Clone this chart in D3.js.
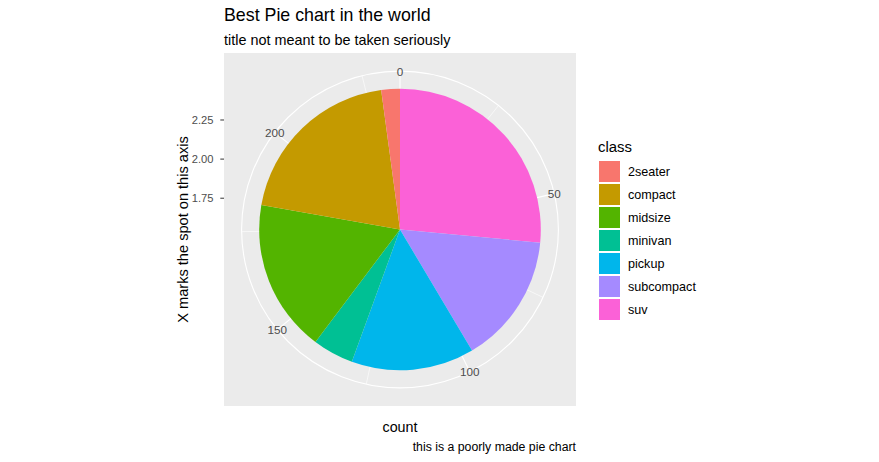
<!DOCTYPE html>
<html><head><meta charset="utf-8">
<script src="https://cdn.jsdelivr.net/npm/d3@7/dist/d3.min.js"></script>
<style>body{margin:0;background:#fff}svg{display:block}text{font-family:"Liberation Sans",Arial,sans-serif}</style>
</head><body>
<svg id="c" width="879" height="462"></svg>
<script>
const categories = ["2seater","compact","midsize","minivan","pickup","subcompact","suv"];
const counts = [5,47,41,11,33,35,62];
const colors = ["#F8766D","#C49A00","#53B400","#00C094","#00B6EB","#A58AFF","#FB61D7"];
const thetaMajor = [0,50,100,150,200];
const thetaMinor = [25,75,125,175,225];
const rBreaks = [1.75,2.00,2.25];
const rLabels = ["1.75","2.00","2.25"];

const svg = d3.select("#c");
const px0 = 224, py0 = 53, pw = 352, ph = 353;
const cx = px0 + pw/2, cy = py0 + ph/2;
const total = d3.sum(counts);
const theta = d3.scaleLinear().domain([0,total]).range([0,2*Math.PI]);
const r = d3.scaleLinear().domain([1.55,2.45]).range([0,0.4*pw]);
const rOuter = 0.45*pw;

svg.append("rect").attr("x",px0).attr("y",py0).attr("width",pw).attr("height",ph).attr("fill","#EBEBEB");
const g = svg.append("g").attr("transform",`translate(${cx},${cy})`);

rBreaks.forEach(b=>g.append("circle").attr("r",r(b)).attr("fill","none").attr("stroke","#fff").attr("stroke-width",1.1));
g.append("circle").attr("r",rOuter).attr("fill","none").attr("stroke","#fff").attr("stroke-width",1.1);
function spoke(v,w){const a=theta(v);g.append("line").attr("x1",0).attr("y1",0)
 .attr("x2",rOuter*Math.sin(a)).attr("y2",-rOuter*Math.cos(a)).attr("stroke","#fff").attr("stroke-width",w);}
thetaMinor.forEach(v=>spoke(v,0.6));
thetaMajor.forEach(v=>spoke(v,1.1));

const order = d3.range(categories.length).reverse();
let acc = 0;
const arc = d3.arc().innerRadius(0).outerRadius(r(2.45));
order.forEach(i=>{
  const s=acc, e=acc+counts[i]; acc=e;
  g.append("path").attr("d",arc({startAngle:theta(s),endAngle:theta(e)})).attr("fill",colors[i]);
});

thetaMajor.forEach(v=>{const a=theta(v);
  g.append("text").attr("x",rOuter*Math.sin(a)).attr("y",-rOuter*Math.cos(a)).attr("text-anchor","middle")
   .attr("dominant-baseline","central").attr("font-size",11.7).attr("fill","#4D4D4D").text(v);
});

rBreaks.forEach((b,i)=>{const y=cy-r(b);
  svg.append("line").attr("x1",px0-3.7).attr("x2",px0).attr("y1",y).attr("y2",y).attr("stroke","#333").attr("stroke-width",1);
  svg.append("text").attr("x",px0-10.5).attr("y",y).attr("text-anchor","end").attr("dominant-baseline","central")
   .attr("font-size",11.2).attr("fill","#4D4D4D").text(rLabels[i]);
});

svg.append("text").attr("x",224).attr("y",21).attr("font-size",17.8).attr("fill","#000").text("Best Pie chart in the world");
svg.append("text").attr("x",224).attr("y",44.5).attr("font-size",14.4).attr("fill","#000").text("title not meant to be taken seriously");
svg.append("text").attr("x",cx).attr("y",431.5).attr("text-anchor","middle").attr("font-size",14.3).attr("fill","#000").text("count");
svg.append("text").attr("x",576).attr("y",451).attr("text-anchor","end").attr("font-size",12.3).attr("fill","#000").text("this is a poorly made pie chart");
svg.append("text").attr("transform",`translate(188,${cy}) rotate(-90)`).attr("text-anchor","middle").attr("font-size",14.6).attr("fill","#000").text("X marks the spot on this axis");

svg.append("text").attr("x",598).attr("y",151.7).attr("font-size",14.9).attr("fill","#000").text("class");
categories.forEach((c,i)=>{const y=161+i*23;
  svg.append("rect").attr("x",599).attr("y",y).attr("width",21).attr("height",21).attr("fill",colors[i]);
  svg.append("text").attr("x",628).attr("y",y+10.5).attr("dominant-baseline","central").attr("font-size",12.6).attr("fill","#000").text(c);
});
</script>
</body></html>
